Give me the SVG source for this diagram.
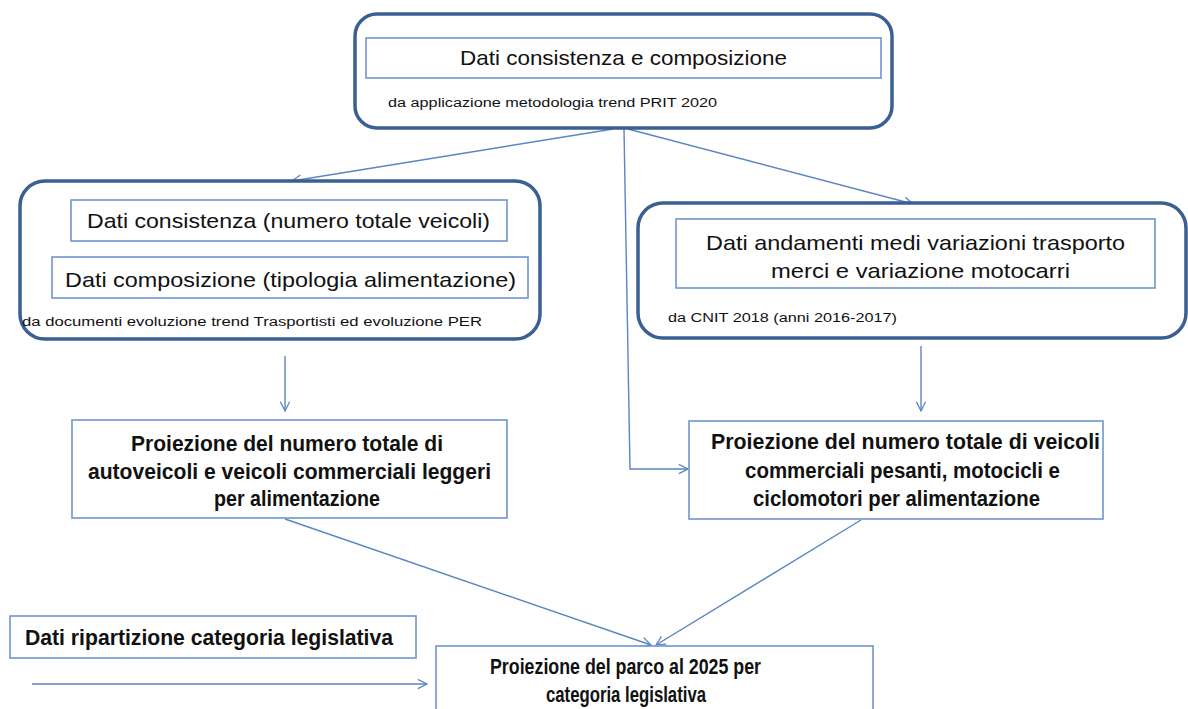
<svg xmlns="http://www.w3.org/2000/svg" width="1188" height="709" viewBox="0 0 1188 709">
<defs>
<marker id="arr" viewBox="0 0 12 12" refX="11" refY="6" markerWidth="11" markerHeight="11" markerUnits="userSpaceOnUse" orient="auto">
<path d="M1,1 L11,6 L1,11" fill="none" stroke="#5a86c3" stroke-width="1.4"/>
</marker>
<style>
.big{fill:#fff;stroke:#3a5f93;stroke-width:3.5}
.box{fill:#fff;stroke:#6f97cc;stroke-width:1.6}
.t{font-family:"Liberation Sans",Arial,sans-serif;font-size:21px;fill:#111}
.b{font-weight:bold;font-size:22px}
.s{font-family:"Liberation Sans",Arial,sans-serif;font-size:12px;fill:#111}
.c{fill:none;stroke:#5a86c3;stroke-width:1.4}
</style>
</defs>
<rect width="1188" height="709" fill="#fff"/>
<g id="connectors">
<line class="c" x1="613" y1="129" x2="292" y2="181" marker-end="url(#arr)"/>
<line class="c" x1="628" y1="129" x2="913" y2="204" marker-end="url(#arr)"/>
<polyline class="c" points="624,129 630,469 688,469" marker-end="url(#arr)"/>
<line class="c" x1="285" y1="356" x2="285" y2="411" marker-end="url(#arr)"/>
<line class="c" x1="921" y1="346" x2="921" y2="411" marker-end="url(#arr)"/>
<line class="c" x1="285" y1="519" x2="651" y2="645" marker-end="url(#arr)"/>
<line class="c" x1="861" y1="520" x2="656" y2="645" marker-end="url(#arr)"/>
<line class="c" x1="32" y1="684" x2="427" y2="684" marker-end="url(#arr)"/>
</g>
<g id="top">
<rect class="big" x="355" y="14" width="537" height="114" rx="22"/>
<rect class="box" x="366" y="38" width="515" height="40"/>
<text class="t" x="460" y="65" textLength="327" lengthAdjust="spacingAndGlyphs">Dati consistenza e composizione</text>
<text class="s" x="388" y="107" textLength="329" lengthAdjust="spacingAndGlyphs">da applicazione metodologia trend PRIT 2020</text>
</g>
<g id="left">
<rect class="big" x="20" y="181" width="520" height="158" rx="25"/>
<rect class="box" x="71" y="200" width="436" height="41"/>
<text class="t" x="87" y="228" textLength="403" lengthAdjust="spacingAndGlyphs">Dati consistenza (numero totale veicoli)</text>
<rect class="box" x="52" y="257" width="476" height="41"/>
<text class="t" x="65" y="287" textLength="451" lengthAdjust="spacingAndGlyphs">Dati composizione (tipologia alimentazione)</text>
<text class="s" x="22" y="326" textLength="460" lengthAdjust="spacingAndGlyphs">da documenti evoluzione trend Trasportisti ed evoluzione PER</text>
</g>
<g id="right">
<rect class="big" x="638" y="203" width="548" height="135" rx="25"/>
<rect class="box" x="676" y="219" width="479" height="69"/>
<text class="t" x="706" y="250" textLength="419" lengthAdjust="spacingAndGlyphs">Dati andamenti medi variazioni trasporto</text>
<text class="t" x="771" y="278" textLength="299" lengthAdjust="spacingAndGlyphs">merci e variazione motocarri</text>
<text class="s" x="668" y="322" textLength="229" lengthAdjust="spacingAndGlyphs">da CNIT 2018 (anni 2016-2017)</text>
</g>
<g id="projLeft">
<rect class="box" x="72" y="420" width="435" height="98"/>
<text class="t b" x="131" y="451" textLength="312" lengthAdjust="spacingAndGlyphs">Proiezione del numero totale di</text>
<text class="t b" x="88" y="479" textLength="403" lengthAdjust="spacingAndGlyphs">autoveicoli e veicoli commerciali leggeri</text>
<text class="t b" x="214" y="506" textLength="166" lengthAdjust="spacingAndGlyphs">per alimentazione</text>
</g>
<g id="projRight">
<rect class="box" x="689" y="421" width="414" height="98"/>
<text class="t b" x="711" y="449" textLength="389" lengthAdjust="spacingAndGlyphs">Proiezione del numero totale di veicoli</text>
<text class="t b" x="745" y="478" textLength="315" lengthAdjust="spacingAndGlyphs">commerciali pesanti, motocicli e</text>
<text class="t b" x="753" y="506" textLength="287" lengthAdjust="spacingAndGlyphs">ciclomotori per alimentazione</text>
</g>
<g id="ripartizione">
<rect class="box" x="10" y="616" width="406" height="42"/>
<text class="t b" x="25" y="645" textLength="368" lengthAdjust="spacingAndGlyphs">Dati ripartizione categoria legislativa</text>
</g>
<g id="parco">
<rect class="box" x="436" y="646" width="437" height="70"/>
<text class="t b" x="490" y="674" textLength="271" lengthAdjust="spacingAndGlyphs">Proiezione del parco al 2025 per</text>
<text class="t b" x="546" y="702" textLength="160" lengthAdjust="spacingAndGlyphs">categoria legislativa</text>
</g>
</svg>
